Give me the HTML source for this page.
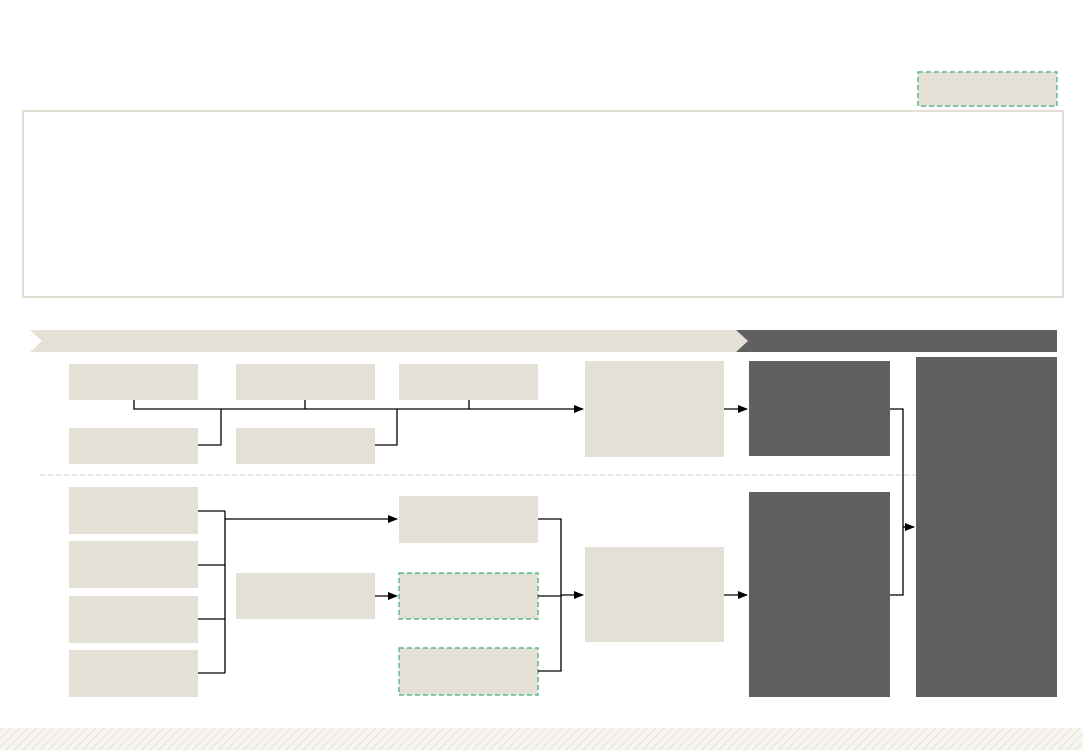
<!DOCTYPE html>
<html><head><style>body{margin:0;background:#fff}svg{display:block}</style></head><body>
<svg width="1083" height="750" xmlns="http://www.w3.org/2000/svg">
<defs>
<marker id="a" markerWidth="10" markerHeight="8" refX="9" refY="4" orient="auto" markerUnits="userSpaceOnUse"><path d="M0,0L10,4L0,8z" fill="#000"/></marker>
<pattern id="h" width="6" height="6" patternUnits="userSpaceOnUse" patternTransform="rotate(45)"><rect width="6" height="6" fill="#f7f5f0"/><line x1="0" y1="0" x2="0" y2="6" stroke="#e6e1d5" stroke-width="2"/></pattern>
</defs>
<g fill="#e4e0d6">
<rect x="918" y="72" width="139" height="34" stroke="#5cb98c" stroke-width="1.5" stroke-dasharray="5,3"/>
</g>
<rect x="23" y="111" width="1040" height="186" fill="none" stroke="#e2ded2" stroke-width="2"/>
<polygon points="30,330 736,330 748,341 736,352 30,352 42,341" fill="#e4e0d6"/>
<polygon points="736,330 1057,330 1057,352 736,352 748,341" fill="#606060"/>
<line x1="40" y1="475" x2="916" y2="475" stroke="#d0d0d0" stroke-dasharray="5,3"/>
<g fill="#e4e0d6">
<rect x="69" y="364" width="129" height="36"/>
<rect x="236" y="364" width="139" height="36"/>
<rect x="399" y="364" width="139" height="36"/>
<rect x="69" y="428" width="129" height="36"/>
<rect x="236" y="428" width="139" height="36"/>
<rect x="585" y="361" width="139" height="96"/>
<rect x="69" y="487" width="129" height="47"/>
<rect x="69" y="541" width="129" height="47"/>
<rect x="69" y="596" width="129" height="47"/>
<rect x="69" y="650" width="129" height="47"/>
<rect x="399" y="496" width="139" height="47"/>
<rect x="236" y="573" width="139" height="46"/>
<rect x="585" y="547" width="139" height="95"/>
<rect x="399" y="573" width="139" height="46" stroke="#5cb98c" stroke-width="1.5" stroke-dasharray="5,3"/>
<rect x="399" y="648" width="139" height="47" stroke="#5cb98c" stroke-width="1.5" stroke-dasharray="5,3"/>
</g>
<g fill="#606060">
<rect x="749" y="361" width="141" height="95"/>
<rect x="749" y="492" width="141" height="205"/>
<rect x="916" y="357" width="141" height="340"/>
</g>
<g stroke="#000" stroke-width="1.3" fill="none">
<path d="M134,400V409H583" marker-end="url(#a)"/>
<path d="M305,400V409M469,400V409M198,445H221V409M375,445H397V409"/>
<path d="M724,409H747" marker-end="url(#a)"/>
<path d="M890,409H903V595H890M903,527H914" />
<path d="M903,527H914" marker-end="url(#a)"/>
<path d="M198,511H225M198,565H225M198,619H225M198,673H225M225,511V673"/>
<path d="M225,519H397" marker-end="url(#a)"/>
<path d="M375,596H397" marker-end="url(#a)"/>
<path d="M538,519H561V671H538M538,596H561"/>
<path d="M561,595H583" marker-end="url(#a)"/>
<path d="M724,595H747" marker-end="url(#a)"/>
</g>
<rect x="0" y="728" width="1083" height="22" fill="url(#h)"/>
</svg>
</body></html>
